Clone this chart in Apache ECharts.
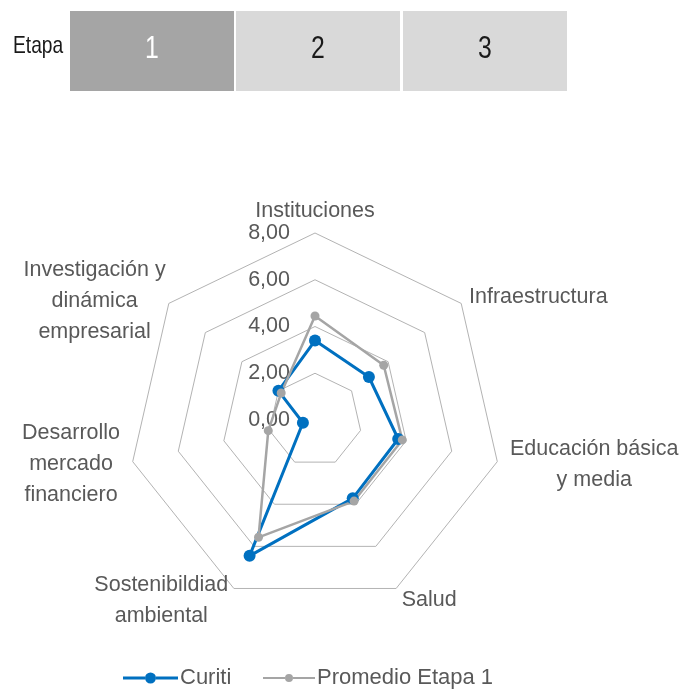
<!DOCTYPE html>
<html>
<head>
<meta charset="utf-8">
<script src="https://cdn.jsdelivr.net/npm/echarts@6/dist/echarts.min.js"></script>
<style>
  html, body { margin: 0; padding: 0; background: #fff; }
  #chart { width: 684px; height: 698px; }
</style>
</head>
<body>
<div id="chart"></div>
<script>
// --- Datos (ejes en sentido horario desde arriba) ---
const indicadores = [
  'Instituciones',
  'Infraestructura',
  'Educación básica\ny media',
  'Salud',
  'Sostenibildiad\nambiental',
  'Desarrollo\nmercado\nfinanciero',
  'Investigación y\ndinámica\nempresarial'
];
const curiti = [3.4, 2.95, 3.65, 3.72, 6.45, 0.53, 2.0];
const promedio = [4.45, 3.76, 3.83, 3.85, 5.57, 2.05, 1.85];
const etapas = ['1', '2', '3'];
const etapaActiva = 0;

const COLORS = {
  curiti: '#0070C0',
  promedio: '#A5A5A5',
  grid: '#b3b3b3',
  text: '#595959',
  boxOn: '#A5A5A5',
  boxOff: '#D9D9D9'
};
const FONT = "'Liberation Sans', Arial, sans-serif";

// separacion del nombre de cada eje (mismo orden que indicadores)
const nameGaps = [5, 10, 13, 13, 13, 13, 4];

// ECharts reparte los indicadores en sentido antihorario: invertir el resto
const toCcw = (arr) => [arr[0], ...arr.slice(1).reverse()];

const chart = echarts.init(document.getElementById('chart'));

// cabecera "Etapa 1 2 3" (texto estrechado para imitar Arial Narrow)
const header = [
  {
    type: 'text', x: 13, y: 46, scaleX: 0.8,
    style: { text: 'Etapa', font: '24px ' + FONT, fill: '#1a1a1a', align: 'left', verticalAlign: 'middle' }
  }
];
const boxX = [70, 236, 403];
etapas.forEach((e, i) => {
  header.push({
    type: 'rect', x: boxX[i], y: 11,
    shape: { width: 164, height: 80 },
    style: { fill: i === etapaActiva ? COLORS.boxOn : COLORS.boxOff }
  });
  header.push({
    type: 'text', x: boxX[i] + 82, y: 49, scaleX: 0.8, z: 10,
    style: {
      text: e, font: '31px ' + FONT,
      fill: i === etapaActiva ? '#ffffff' : '#1a1a1a',
      align: 'center', verticalAlign: 'middle'
    }
  });
});

const indicatorOpts = toCcw(indicadores).map((name, i) => ({
  name: name,
  min: 0,
  max: 8,
  nameGap: toCcw(nameGaps)[i],
  axisLabel: { show: i === 0 }
}));

const legendIcon = (w, h, r, t) => {
  const cx = w / 2, cy = h / 2;
  const y0 = cy - t / 2, y1 = cy + t / 2;
  return 'path://' +
    `M0,${y0}H${cx - r}V${y1}H0Z ` +
    `M${cx - r},${cy}a${r},${r} 0 1,0 ${2 * r},0a${r},${r} 0 1,0 ${-2 * r},0Z ` +
    `M${cx + r},${y0}H${w}V${y1}H${cx + r}Z`;
};

const legendText = { color: COLORS.text, fontSize: 22, fontFamily: FONT, padding: [0, 0, 0, -3] };

const option = {
  animation: false,
  backgroundColor: '#ffffff',
  graphic: header,
  legend: [
    {
      data: [{ name: 'Curiti', icon: legendIcon(55, 11, 5.5, 3) }],
      left: 123, top: 667, padding: 0,
      itemWidth: 55, itemHeight: 11,
      itemStyle: { borderWidth: 0 },
      textStyle: legendText,
      selectedMode: false
    },
    {
      data: [{ name: 'Promedio Etapa 1', icon: legendIcon(52, 8, 4, 2) }],
      left: 263, top: 667, padding: 0,
      itemWidth: 52, itemHeight: 8,
      itemStyle: { borderWidth: 0 },
      textStyle: legendText,
      selectedMode: false
    }
  ],
  radar: {
    center: [315, 420],
    radius: 187,
    startAngle: 90,
    splitNumber: 4,
    shape: 'polygon',
    indicator: indicatorOpts,
    axisName: {
      color: COLORS.text,
      fontSize: 21.5,
      fontFamily: FONT,
      formatter: (name) => name.split('\n').map(l => '{c|' + l + '}').join('\n'),
      rich: {
        c: { align: 'center', lineHeight: 31, fontSize: 21.5, fontFamily: FONT, color: COLORS.text }
      }
    },
    nameGap: 13,
    axisLine: { show: false },
    axisTick: { show: false },
    splitArea: { show: false },
    splitLine: { lineStyle: { color: COLORS.grid, width: 1 } },
    axisLabel: {
      show: false,
      color: COLORS.text,
      fontSize: 21.5,
      fontFamily: FONT,
      margin: 25,
      formatter: (v) => Number(v).toFixed(2).replace('.', ',')
    }
  },
  series: [
    {
      name: 'Curiti',
      type: 'radar',
      symbol: 'circle',
      symbolSize: 12,
      itemStyle: { color: COLORS.curiti },
      lineStyle: { color: COLORS.curiti, width: 3 },
      data: [{ name: 'Curiti', value: toCcw(curiti) }]
    },
    {
      name: 'Promedio Etapa 1',
      type: 'radar',
      symbol: 'circle',
      symbolSize: 9,
      itemStyle: { color: COLORS.promedio },
      lineStyle: { color: COLORS.promedio, width: 2.5 },
      data: [{ name: 'Promedio Etapa 1', value: toCcw(promedio) }]
    }
  ]
};

chart.setOption(option);
</script>
</body>
</html>
